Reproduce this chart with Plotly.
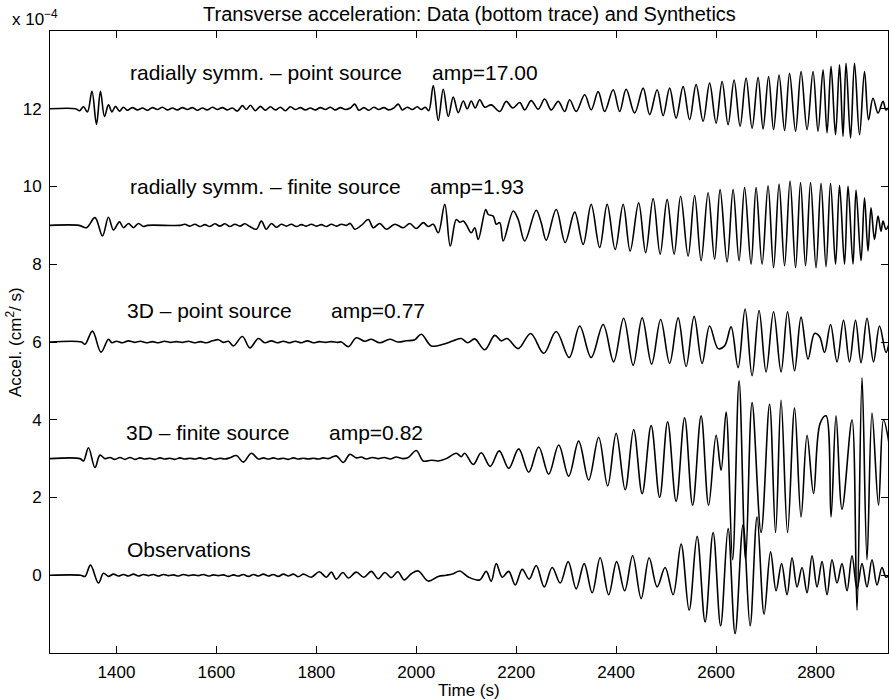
import plotly.graph_objects as go

# ---------------- data (time in s, amplitude in 1e-4 cm^2/s relative to trace baseline) -------------
x_ticks = [1400, 1600, 1800, 2000, 2200, 2400, 2600, 2800]
y_ticks = [0, 2, 4, 6, 8, 10, 12]

trace_names = ["Observations", "3D – finite source", "3D – point source",
               "radially symm. – finite source", "radially symm. – point source"]
trace_offsets = [0, 3, 6, 9, 12]
amp_labels = ["", "amp=0.82", "amp=0.77", "amp=1.93", "amp=17.00"]

rad_point = [
    (1267, 0), (1318, 0), (1326, -0.05), (1334, 0.05), (1342, -0.08), (1351, 0.45), (1360, -0.4),
    (1368, 0.45), (1376, -0.2), (1384, 0.1), (1391, -0.08), (1398, 0.06), (1406, -0.06), (1414, 0.04),
    (1422, -0.04), (1432, 0.03), (1442, -0.03), (1452, 0.02), (1462, -0.04), (1472, 0.03), (1482, -0.02),
    (1492, 0.04), (1502, -0.03), (1512, 0.02), (1522, -0.03), (1532, 0.03), (1542, -0.02), (1552, 0.03),
    (1562, -0.04), (1572, 0.02), (1582, -0.03), (1592, 0.04), (1602, -0.02), (1612, 0.03), (1622, -0.03),
    (1632, 0.02), (1642, -0.06), (1652, 0.08), (1660, -0.02), (1668, 0.09), (1678, -0.05), (1688, 0.06),
    (1698, -0.04), (1708, 0.05), (1718, -0.03), (1728, 0.04), (1738, -0.05), (1748, 0.05), (1758, -0.02),
    (1768, 0.03), (1778, -0.03), (1788, 0.02), (1798, -0.03), (1808, 0.03), (1818, -0.02), (1828, 0.04),
    (1838, -0.03), (1848, 0.03), (1858, -0.02), (1868, 0.02), (1877, 0.12), (1885, -0.04), (1895, 0.03),
    (1905, -0.04), (1915, 0.04), (1925, -0.02), (1935, 0.03), (1945, -0.03), (1955, 0.02), (1964, 0.12),
    (1972, -0.03), (1982, 0.04), (1992, -0.02), (2002, 0.05), (2010, -0.02), (2018, 0.04), (2025, -0.05),
    (2034, 0.6), (2044, -0.3), (2054, 0.5), (2064, -0.2), (2074, 0.3), (2084, -0.1), (2094, 0.2),
    (2102, 0.0), (2110, 0.2), (2118, 0.02), (2127, 0.23), (2137, 0.04), (2150, 0.1), (2167, -0.07),
    (2180, 0.19), (2193, 0.02), (2207, 0.16), (2217, -0.03), (2230, 0.21), (2244, -0.01), (2257, 0.25),
    (2270, -0.03), (2284, 0.19), (2297, -0.07), (2307, 0.23), (2320, -0.07), (2337, 0.36), (2350, -0.03),
    (2364, 0.44), (2377, -0.07), (2394, 0.49), (2407, -0.07), (2420, 0.50), (2437, -0.11), (2454, 0.53),
    (2467, -0.15), (2482, 0.49), (2494, -0.18), (2507, 0.53), (2520, -0.24), (2534, 0.57), (2547, -0.28),
    (2560, 0.62), (2574, -0.32), (2587, 0.66), (2600, -0.37), (2612, 0.70), (2624, -0.41), (2636, 0.74),
    (2648, -0.45), (2660, 0.79), (2672, -0.50), (2684, 0.81), (2694, -0.52), (2705, 0.83), (2715, -0.54),
    (2726, 0.87), (2737, -0.56), (2747, 0.91), (2759, -0.58), (2770, 0.96), (2782, -0.54), (2794, 0.96),
    (2804, -0.58), (2814, 1.0), (2822, -0.62), (2830, 1.09), (2839, -0.67), (2847, 1.13), (2854, -0.71),
    (2860, 1.17), (2869, -0.75), (2877, 1.17), (2887, -0.67), (2897, 0.96), (2905, -0.28), (2914, 0.27),
    (2924, -0.11), (2934, 0.19), (2940, -0.03), (2946, 0.05),
]

rad_finite = [
    (1267, 0), (1325, 0), (1340, -0.06), (1357, 0.2), (1372, -0.27), (1384, 0.21), (1394, -0.12),
    (1406, 0.09), (1414, -0.06), (1424, 0.05), (1434, -0.06), (1444, 0.05), (1454, -0.03), (1462, 0),
    (1527, 0), (1537, 0.03), (1547, -0.02), (1557, 0.03), (1567, -0.03), (1577, 0.02), (1587, -0.03),
    (1597, 0.04), (1607, -0.02), (1617, 0.04), (1627, -0.03), (1637, 0.03), (1647, -0.02), (1657, 0.04),
    (1667, -0.03), (1680, -0.1), (1690, 0.11), (1700, -0.1), (1710, 0.05), (1720, -0.05), (1730, 0.03),
    (1740, -0.02), (1750, 0.03), (1760, -0.03), (1770, 0.02), (1780, -0.02), (1790, 0.03), (1800, -0.02),
    (1810, 0.02), (1820, -0.03), (1830, 0.03), (1840, -0.02), (1850, 0.03), (1860, 0.0), (1868, 0.05),
    (1877, -0.1), (1890, 0.0), (1904, 0.15), (1914, -0.06), (1927, 0.05), (1940, -0.1), (1957, 0.03),
    (1974, -0.06), (1987, 0.05), (2000, -0.08), (2014, 0.07), (2024, -0.03), (2034, 0.03), (2044, -0.19),
    (2057, 0.54), (2068, -0.53), (2080, 0.15), (2087, 0.08), (2094, 0.11), (2100, 0.02), (2110, -0.19),
    (2117, -0.06), (2124, -0.36), (2139, 0.41), (2144, 0.28), (2154, 0.24), (2160, 0.03), (2167, 0.07),
    (2174, -0.4), (2194, 0.37), (2204, 0.15), (2217, -0.4), (2240, 0.39), (2250, 0.07), (2260, -0.38),
    (2280, 0.41), (2298, -0.44), (2317, 0.34), (2334, -0.49), (2350, 0.54), (2367, -0.57), (2382, 0.54),
    (2398, -0.62), (2414, 0.54), (2428, -0.66), (2445, 0.58), (2459, -0.70), (2474, 0.69), (2488, -0.74),
    (2502, 0.67), (2516, -0.74), (2529, 0.75), (2544, -0.79), (2557, 0.77), (2570, -0.91), (2584, 0.84),
    (2597, -0.87), (2608, 0.92), (2622, -0.94), (2634, 0.92), (2646, -0.91), (2657, 0.97), (2670, -1.0),
    (2680, 0.97), (2692, -1.0), (2704, 1.02), (2715, -1.09), (2726, 1.06), (2737, -1.04), (2748, 1.14),
    (2759, -1.09), (2769, 1.1), (2779, -1.04), (2789, 1.1), (2800, -1.09), (2810, 1.08), (2820, -1.06),
    (2829, 1.08), (2839, -1.0), (2847, 1.03), (2857, -1.0), (2864, 1.01), (2874, -1.0), (2880, 0.91),
    (2890, -0.91), (2897, 0.71), (2904, -0.66), (2910, 0.45), (2917, -0.36), (2924, 0.24), (2930, -0.15),
    (2934, 0.11), (2940, -0.1), (2946, 0.03),
]

point_3d = [
    (1267, 0), (1330, 0), (1337, -0.06), (1352, 0.28), (1369, -0.26), (1384, 0.07), (1391, -0.02),
    (1400, 0.02), (1412, -0.02), (1424, 0.03), (1436, -0.01), (1448, 0.02), (1460, -0.02), (1472, 0.01),
    (1484, -0.02), (1496, 0.02), (1508, -0.01), (1520, 0.01), (1532, -0.01), (1544, 0.02), (1556, -0.02),
    (1568, 0.01), (1580, -0.02), (1592, 0.03), (1604, 0.06), (1614, -0.01), (1624, 0.02), (1634, -0.1),
    (1652, 0.14), (1667, -0.15), (1684, 0.09), (1697, -0.02), (1710, 0.03), (1722, -0.02), (1734, 0.02),
    (1746, -0.02), (1758, 0.02), (1770, -0.02), (1782, 0.03), (1794, -0.02), (1806, 0.01), (1818, -0.01),
    (1830, 0.01), (1842, -0.01), (1850, 0.0), (1864, -0.12), (1880, 0.11), (1897, 0.02), (1910, 0.07),
    (1927, -0.02), (1947, 0.07), (1963, 0.0), (1980, 0.03), (1997, 0.06), (2010, 0.2), (2030, -0.1),
    (2054, -0.06), (2074, 0.03), (2090, 0.09), (2103, -0.02), (2117, 0.08), (2137, -0.2), (2157, 0.17),
    (2170, 0.03), (2182, 0.09), (2204, -0.17), (2229, 0.22), (2255, -0.29), (2280, 0.27), (2306, -0.4),
    (2327, 0.41), (2350, -0.4), (2374, 0.45), (2395, -0.51), (2415, 0.61), (2434, -0.6), (2452, 0.62),
    (2471, -0.57), (2489, 0.58), (2507, -0.55), (2524, 0.62), (2540, -0.63), (2556, 0.66), (2572, -0.55),
    (2587, 0.41), (2604, -0.17), (2617, -0.1), (2630, 0.39), (2644, -0.66), (2658, 0.85), (2672, -0.87),
    (2686, 0.81), (2700, -0.77), (2715, 0.78), (2730, -0.77), (2743, 0.78), (2757, -0.74), (2770, 0.64),
    (2784, -0.44), (2797, 0.22), (2807, 0.14), (2817, -0.27), (2829, 0.45), (2842, -0.51), (2855, 0.56),
    (2867, -0.51), (2879, 0.56), (2890, -0.53), (2902, 0.61), (2915, -0.51), (2927, 0.41), (2940, -0.27),
    (2946, -0.02),
]

finite_3d = [
    (1267, 0), (1327, 0), (1334, -0.06), (1344, 0.28), (1357, -0.23), (1367, 0.09), (1377, 0.0),
    (1387, 0.03), (1397, -0.02), (1407, 0.03), (1417, -0.02), (1427, 0.03), (1437, -0.02), (1447, 0.02),
    (1457, -0.01), (1467, 0.01), (1477, -0.02), (1487, 0.02), (1497, -0.01), (1507, 0.01), (1517, -0.02),
    (1527, 0.02), (1537, -0.01), (1547, 0.01), (1557, -0.01), (1567, 0.02), (1577, -0.01), (1587, 0.02),
    (1597, -0.02), (1607, 0.01), (1617, -0.01), (1627, 0.02), (1640, 0.08), (1654, -0.09), (1670, 0.14),
    (1684, -0.01), (1694, 0.02), (1704, -0.01), (1714, 0.02), (1724, -0.01), (1734, 0.01), (1744, -0.02),
    (1754, 0.02), (1764, -0.01), (1774, 0.01), (1784, -0.01), (1794, 0.01), (1804, -0.01), (1814, 0.02),
    (1824, 0.0), (1840, 0.07), (1854, -0.1), (1867, 0.11), (1880, 0.02), (1890, 0.04), (1900, -0.01),
    (1912, 0.03), (1924, 0.0), (1936, 0.03), (1948, -0.01), (1960, 0.04), (1972, 0.0), (1984, 0.03),
    (2000, 0.21), (2014, -0.06), (2030, -0.04), (2044, -0.06), (2060, 0.0), (2080, 0.14), (2090, 0.05),
    (2097, 0.14), (2114, -0.15), (2130, 0.15), (2148, -0.2), (2166, 0.2), (2185, -0.25), (2205, 0.25),
    (2225, -0.35), (2245, 0.3), (2265, -0.4), (2285, 0.35), (2305, -0.45), (2325, 0.45), (2345, -0.55),
    (2365, 0.55), (2383, -0.7), (2400, 0.65), (2418, -0.8), (2435, 0.75), (2452, -0.9), (2470, 0.85),
    (2487, -1.0), (2503, 0.95), (2520, -1.1), (2537, 1.05), (2553, -1.2), (2570, 1.1), (2585, -1.2),
    (2600, 0.6), (2610, -0.3), (2620, 1.2), (2633, -2.6), (2646, 2.0), (2659, -2.6), (2672, 1.44),
    (2690, -1.9), (2707, 1.4), (2719, -1.9), (2730, 1.5), (2743, -1.9), (2757, 1.3), (2770, -1.5),
    (2782, 0.6), (2795, -0.9), (2808, 0.9), (2820, 1.1), (2830, -1.5), (2840, 1.1), (2852, -1.3),
    (2872, 1.0), (2882, -3.9), (2892, 2.08), (2902, -2.6), (2912, 1.17), (2925, -1.2), (2935, 1.0),
    (2946, 0.4),
]

observations = [
    (1267, 0), (1328, 0), (1337, -0.03), (1348, 0.26), (1364, -0.2), (1374, 0.05), (1384, -0.03),
    (1394, 0.03), (1404, -0.02), (1414, 0.02), (1424, -0.02), (1434, 0.03), (1444, -0.02), (1454, 0.02),
    (1464, -0.01), (1474, 0.02), (1484, -0.02), (1494, 0.02), (1504, -0.01), (1514, 0.01), (1524, -0.02),
    (1534, 0.02), (1544, -0.01), (1554, 0.01), (1564, -0.01), (1574, 0.02), (1584, -0.02), (1594, 0.01),
    (1604, -0.01), (1614, 0.01), (1624, -0.03), (1634, 0.01), (1644, -0.02), (1654, 0.02), (1664, -0.03),
    (1674, 0.02), (1684, -0.02), (1694, 0.03), (1704, -0.02), (1714, 0.02), (1724, -0.03), (1734, 0.03),
    (1744, -0.02), (1754, 0.03), (1764, -0.04), (1774, 0.03), (1790, -0.05), (1806, 0.09), (1820, -0.05),
    (1830, 0.08), (1840, -0.1), (1853, 0.07), (1864, -0.07), (1880, 0.08), (1895, -0.05), (1910, 0.1),
    (1924, -0.09), (1937, 0.07), (1950, -0.06), (1963, 0.09), (1976, -0.12), (1990, 0.04), (2004, 0.11),
    (2024, -0.15), (2044, -0.03), (2060, 0.0), (2074, 0.04), (2087, 0.11), (2105, -0.05), (2127, -0.12),
    (2140, 0.1), (2150, -0.15), (2160, 0.3), (2172, -0.05), (2185, 0.1), (2198, -0.25), (2212, 0.15),
    (2226, -0.1), (2240, 0.25), (2256, -0.3), (2272, 0.2), (2288, -0.2), (2304, 0.35), (2320, -0.35),
    (2336, 0.3), (2352, -0.45), (2368, 0.45), (2385, -0.5), (2401, 0.35), (2417, -0.4), (2433, 0.5),
    (2450, -0.6), (2466, 0.45), (2482, -0.3), (2498, 0.2), (2514, -0.5), (2530, 0.8), (2546, -0.9),
    (2562, 1.0), (2578, -1.2), (2594, 1.1), (2609, -1.3), (2624, 1.2), (2638, -1.5), (2654, 1.3),
    (2668, -1.3), (2682, 1.5), (2696, -1.0), (2709, 0.6), (2720, -0.4), (2731, 0.3), (2742, -0.5),
    (2752, 0.45), (2762, -0.3), (2772, 0.2), (2782, -0.45), (2792, 0.5), (2802, -0.3), (2812, 0.35),
    (2822, -0.5), (2832, 0.4), (2842, -0.2), (2852, 0.3), (2862, -0.4), (2872, 0.5), (2882, -0.35),
    (2892, 0.3), (2902, -0.3), (2912, 0.4), (2922, -0.25), (2932, 0.2), (2940, -0.05), (2946, 0.0),
]

series = [observations, finite_3d, point_3d, rad_finite, rad_point]

# label anchor positions (data coords)
label_x = [1417, 1415, 1417, 1423, 1423]
label_y = [0.65, 3.68, 6.82, 10.01, 12.93]
amp_x = [None, 1821, 1825, 2023, 2027]

FONT = "Liberation Sans, Arial, Helvetica, sans-serif"

fig = go.Figure()
for pts, off in zip(series, trace_offsets):
    fig.add_trace(go.Scatter(
        x=[p[0] for p in pts], y=[p[1] + off for p in pts], mode="lines",
        line=dict(color="black", width=1.6, shape="spline", smoothing=1.0),
        showlegend=False, hoverinfo="skip"))

annotations = []
for i in range(5):
    annotations.append(dict(x=label_x[i], y=label_y[i], xref="x", yref="y", text=trace_names[i],
                            showarrow=False, xanchor="left", yanchor="middle",
                            font=dict(family=FONT, size=21, color="black")))
    if amp_labels[i]:
        annotations.append(dict(x=amp_x[i], y=label_y[i], xref="x", yref="y", text=amp_labels[i],
                                showarrow=False, xanchor="left", yanchor="middle",
                                font=dict(family=FONT, size=21, color="black")))

annotations += [
    dict(x=0.5, y=1.027, xref="paper", yref="paper", showarrow=False, xanchor="center", yanchor="middle",
         text="Transverse acceleration: Data (bottom trace) and Synthetics",
         font=dict(family=FONT, size=20, color="black")),
    dict(x=-0.0477, y=1.021, xref="paper", yref="paper", showarrow=False, xanchor="left", yanchor="middle",
         text="x 10<sup>−4</sup>", font=dict(family=FONT, size=17, color="black")),
    dict(x=0.5, y=-0.0595, xref="paper", yref="paper", showarrow=False, xanchor="center", yanchor="middle",
         text="Time (s)", font=dict(family=FONT, size=17, color="black")),
    dict(x=-0.043, y=0.5, xref="paper", yref="paper", showarrow=False, xanchor="center", yanchor="middle",
         text="Accel. (cm<sup>2</sup>/ s)", textangle=-90, font=dict(family=FONT, size=17, color="black")),
]

fig.update_layout(
    width=889, height=700,
    margin=dict(l=50, r=1, t=31, b=47),
    paper_bgcolor="white", plot_bgcolor="white",
    font=dict(family=FONT, size=17, color="black"),
    annotations=annotations,
    xaxis=dict(range=[1267, 2944], tickvals=x_ticks, ticks="inside", ticklen=7, tickcolor="black",
               showline=True, linecolor="black", linewidth=1, mirror="allticks", showgrid=False,
               zeroline=False, ticklabelstandoff=4, tickfont=dict(size=17)),
    yaxis=dict(range=[-2, 14], tickvals=y_ticks, ticks="inside", ticklen=7, tickcolor="black",
               showline=True, linecolor="black", linewidth=1, mirror="allticks", showgrid=False,
               zeroline=False, ticklabelstandoff=4, tickfont=dict(size=17)),
)

fig.write_html("out.html")
